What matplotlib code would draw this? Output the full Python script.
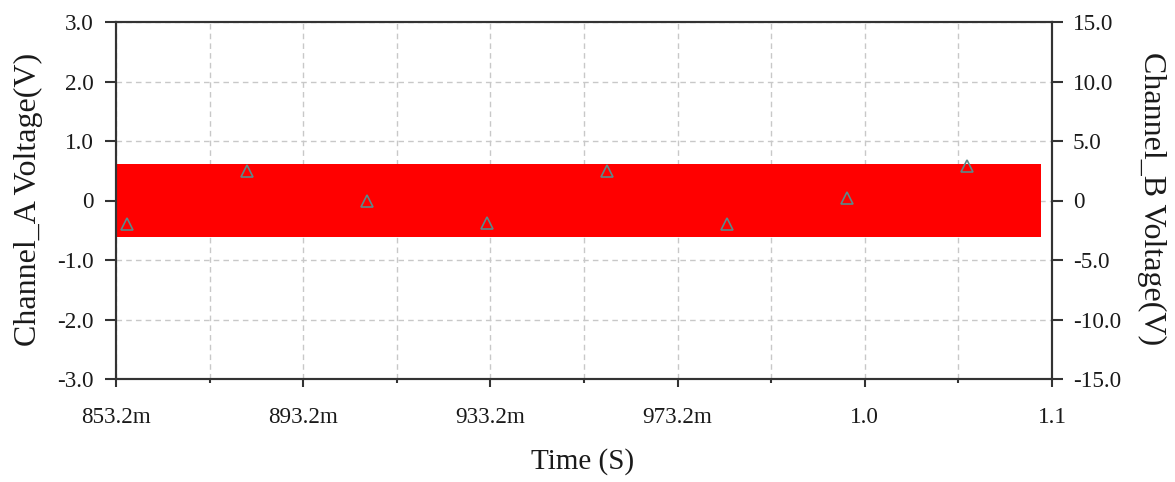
import matplotlib
matplotlib.use("Agg")
import matplotlib.pyplot as plt
import numpy as np

# ---- data ----
x_ticks = [0.8532, 0.8932, 0.9332, 0.9732, 1.0132, 1.0532]
x_tick_labels = ["853.2m", "893.2m", "933.2m", "973.2m", "1.0", "1.1"]
x_minor = [0.8732, 0.9132, 0.9532, 0.9932, 1.0332]
ya_ticks = [-3, -2, -1, 0, 1, 2, 3]
ya_labels = ["-3.0", "-2.0", "-1.0", "0", "1.0", "2.0", "3.0"]
yb_ticks = [-15, -10, -5, 0, 5, 10, 15]
yb_labels = ["-15.0", "-10.0", "-5.0", "0", "5.0", "10.0", "15.0"]

# Channel A signal envelope (dense oscillation rendered as filled band)
band_t = [0.8532, 1.0509]
band_upper = [0.61, 0.61]
band_lower = [-0.61, -0.61]

# Channel B sample markers
marker_t = [0.85555, 0.88119, 0.90683, 0.93247, 0.95812, 0.98376, 1.0094, 1.0350]
marker_v = [-0.40, 0.49, 0.0, -0.38, 0.50, -0.40, 0.05, 0.58]

plt.rcParams['font.family'] = ['Liberation Serif', 'DejaVu Serif']
txt = '#1a1a1a'

fig = plt.figure(figsize=(11.75, 4.82), dpi=100)
ax = fig.add_axes([116/1175, 1-379/482, (1052-116)/1175, (379-22)/482])
ax2 = ax.twinx()

ax.set_xlim(0.8532, 1.0532)
ax.set_ylim(-3, 3)
ax2.set_ylim(-15, 15)

ax.set_axisbelow(True)
ax.fill_between(band_t, band_lower, band_upper, color='#ff0000', lw=0, zorder=2)
ax.plot(marker_t, marker_v, ls='none', marker='^', markersize=8,
        markerfacecolor='none', markeredgecolor='#5a8a8a', mew=1.2, zorder=3)

ax.set_xticks(x_ticks)
ax.set_xticklabels(x_tick_labels)
ax.set_xticks(x_minor, minor=True)
ax.set_yticks(ya_ticks)
ax.set_yticklabels(ya_labels)
ax2.set_yticks(yb_ticks)
ax2.set_yticklabels(yb_labels)

ax.grid(True, which='both', axis='x', ls=(0, (4, 3)), color='#c8c8c8', lw=1)
ax.grid(True, which='major', axis='y', ls=(0, (4, 3)), color='#c8c8c8', lw=1)

for a in (ax, ax2):
    for s in a.spines.values():
        s.set_color('#333333')
        s.set_linewidth(1.5)

ax.tick_params(axis='x', which='major', direction='out', length=6, width=1.5,
               color='#333333', labelsize=16.7, labelcolor=txt, pad=14)
ax.tick_params(axis='x', which='minor', direction='out', length=3, width=1.5,
               color='#333333')
ax.tick_params(axis='y', direction='out', length=8, width=1.5, color='#333333',
               labelsize=16.7, labelcolor=txt, pad=8)
ax2.tick_params(axis='y', direction='out', length=8, width=1.5, color='#333333',
                labelsize=16.7, labelcolor=txt, pad=7)

fig.text(583/1175, 1-462/482, "Time (S)", ha='center', va='center',
         fontsize=21, color=txt)
fig.text(28/1175, 1-199/482, "Channel_A Voltage(V)", ha='center', va='center',
         rotation=90, fontsize=23, color=txt)
fig.text(1152/1175, 1-199/482, "Channel_B Voltage(V)", ha='center', va='center',
         rotation=270, fontsize=23, color=txt)

fig.savefig("out.png", dpi=100)
